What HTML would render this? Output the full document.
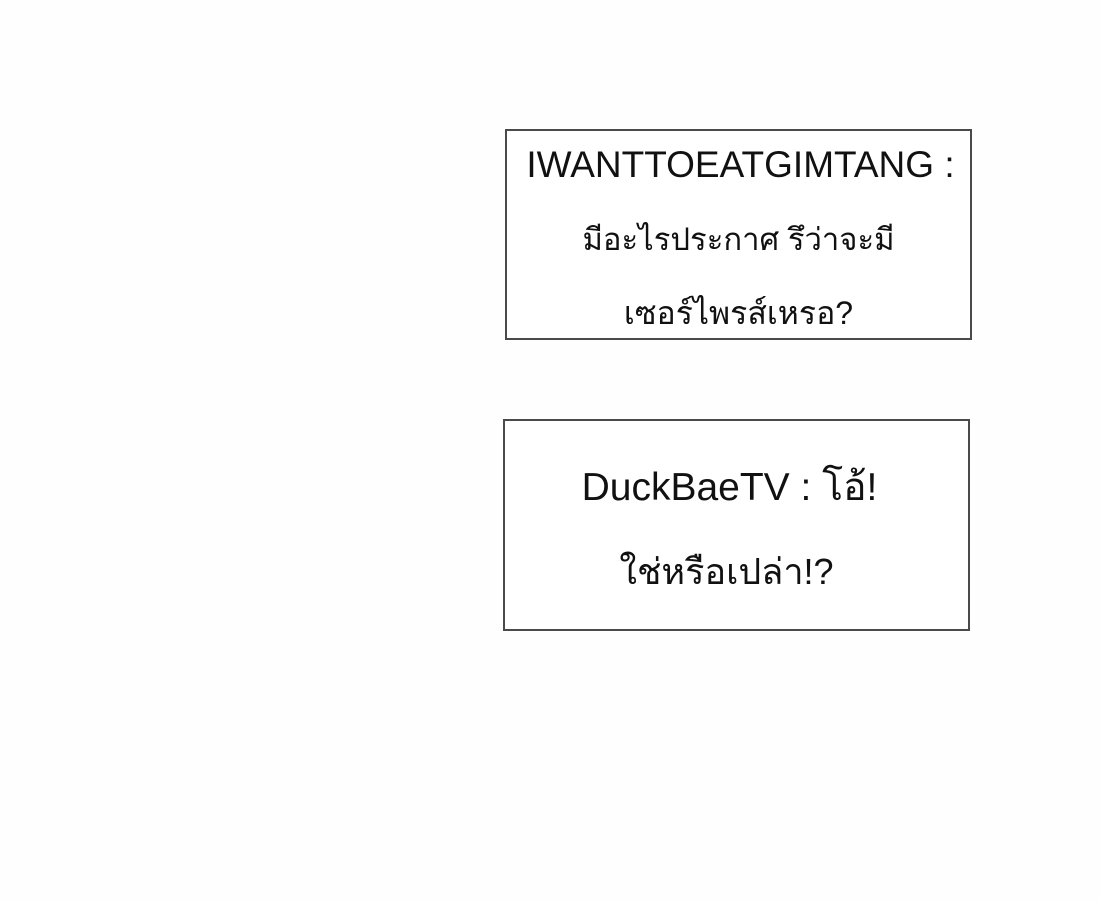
<!DOCTYPE html>
<html><head><meta charset="utf-8"><style>
html,body{margin:0;padding:0;background:#fefefe;width:1100px;height:900px;overflow:hidden;font-family:"Liberation Sans",sans-serif;color:#111}
.box{position:absolute;border:2px solid #4a4a4a;box-sizing:border-box;background:#fff}
.t{position:absolute;left:0;right:0;text-align:center;white-space:nowrap;line-height:1}
</style></head><body>
<div class="box" style="left:505px;top:129px;width:467px;height:211px">
  <div class="t" style="top:15px;font-size:37px;left:4px">IWANTTOEATGIMTANG :</div>
  <div class="t" style="top:93px;font-size:31px">มีอะไรประกาศ รึว่าจะมี</div>
  <div class="t" style="top:166px;font-size:32px">เซอร์ไพรส์เหรอ?</div>
</div>
<div class="box" style="left:503px;top:419px;width:467px;height:212px">
  <div class="t" style="top:47px;font-size:39px;right:14px">DuckBaeTV : โอ้!</div>
  <div class="t" style="top:133px;font-size:36px;right:20px">ใช่หรือเปล่า!?</div>
</div>
</body></html>
